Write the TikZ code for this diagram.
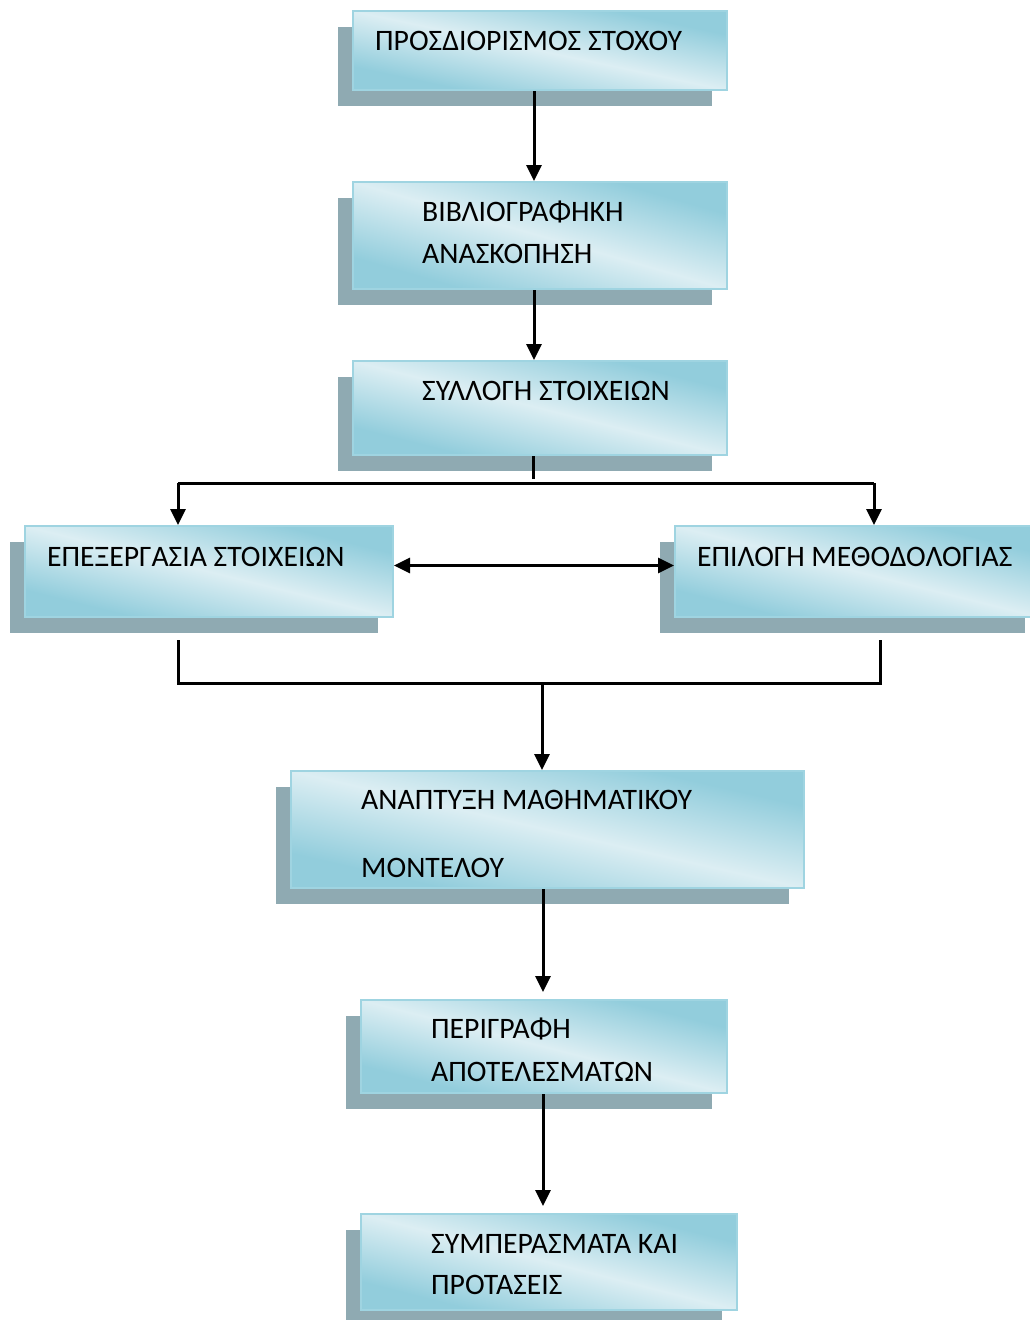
\documentclass[tikz,border=0pt]{standalone}
\usepackage{fontspec}
\setmainfont{Carlito}
\usetikzlibrary{arrows.meta}
\definecolor{dk}{HTML}{92CDDC}
\definecolor{lt}{HTML}{DCEEF3}
\definecolor{bd}{HTML}{9FD4E1}
\definecolor{sh}{HTML}{8FAAB2}
\pgfdeclareverticalshading{aquashade}{100bp}{color(0bp)=(dk); color(25bp)=(dk); color(50bp)=(lt); color(75bp)=(dk); color(100bp)=(dk)}
\tikzset{
  boxframe/.style={draw=bd, line width=2pt, inner sep=0pt, fill=none},
  shadowbox/.style={fill=sh},
  lbl/.style={anchor=west, inner sep=0pt, font=\fontsize{29.7}{32}\selectfont},
  conn/.style={line width=3pt, black},
  arr/.style={conn, -{Triangle[length=16pt,width=15pt]}},
  darr/.style={conn, {Triangle[length=16pt,width=15pt]}-{Triangle[length=16pt,width=15pt]}}
}
% #1 name, #2 x1, #3 y1, #4 x2, #5 y2
\newcommand\flowbox[5]{%
  \fill[shadowbox] (#2-15,#3+16) rectangle (#4-15,#5+16);
  \begin{scope}[transform canvas={shift={({(#2+#4)/2},{(#3+#5)/2})}, xscale={(#4-#2)/(#5-#3)}}]
    \shade[shading=aquashade, shading angle=-45] ({-(#5-#3)/2},{-(#5-#3)/2}) rectangle ({(#5-#3)/2},{(#5-#3)/2});
  \end{scope}
  \node[boxframe, minimum width={#4-#2}, minimum height={#5-#3}] (#1) at ({(#2+#4)/2},{(#3+#5)/2}) {};
}
\begin{document}
\begin{tikzpicture}[x=1pt, y=-1pt]
\useasboundingbox (0,0) rectangle (1030,1320);
\clip (0,0) rectangle (1030,1320);

\flowbox{b1}{353}{11}{727}{90}
\flowbox{b2}{353}{182}{727}{289}
\flowbox{b3}{353}{361}{727}{455}
\flowbox{b4}{25}{526}{393}{617}
\flowbox{b5}{675}{526}{1040}{617}
\flowbox{b6}{291}{771}{804}{888}
\flowbox{b7}{361}{1000}{727}{1093}
\flowbox{b8}{361}{1214}{737}{1310}

\node[lbl] (t1) at (375,41) {ΠΡΟΣΔΙΟΡΙΣΜΟΣ ΣΤΟΧΟΥ};
\node[lbl] (t2a) at (422,212) {ΒΙΒΛΙΟΓΡΑΦΗΚΗ};
\node[lbl] (t2b) at (422,254) {ΑΝΑΣΚΟΠΗΣΗ};
\node[lbl] (t3) at (422,391) {ΣΥΛΛΟΓΗ ΣΤΟΙΧΕΙΩΝ};
\node[lbl] (t4) at (47,557) {ΕΠΕΞΕΡΓΑΣΙΑ ΣΤΟΙΧΕΙΩΝ};
\node[lbl] (t5) at (697,557) {ΕΠΙΛΟΓΗ ΜΕΘΟΔΟΛΟΓΙΑΣ};
\node[lbl] (t6a) at (361,800) {ΑΝΑΠΤΥΞΗ ΜΑΘΗΜΑΤΙΚΟΥ};
\node[lbl] (t6b) at (361,868) {ΜΟΝΤΕΛΟΥ};
\node[lbl] (t7a) at (431,1029) {ΠΕΡΙΓΡΑΦΗ};
\node[lbl] (t7b) at (431,1072) {ΑΠΟΤΕΛΕΣΜΑΤΩΝ};
\node[lbl] (t8a) at (431,1244) {ΣΥΜΠΕΡΑΣΜΑΤΑ ΚΑΙ};
\node[lbl] (t8b) at (431,1285) {ΠΡΟΤΑΣΕΙΣ};

% connectors
\draw[arr] ([xshift=-6pt]b1.south) -- ([xshift=-6pt]b2.north);
\draw[arr] ([xshift=-6pt]b2.south) -- ([xshift=-6pt]b3.north);

\coordinate (s1) at (533,479);
\coordinate (hl) at (178,483);
\coordinate (hr) at (874,483);
\draw[conn] ([xshift=-7pt]b3.south) -- (s1);
\draw[conn] (hl) -- (hr);
\draw[arr] (hl) -- (b4.north -| hl);
\draw[arr] (hr) -- (b5.north -| hr);

\draw[darr] ([yshift=6pt]b4.east) -- ([yshift=6pt]b5.west);

\coordinate (ul) at (178,640);
\coordinate (ur) at (880,640);
\coordinate (ml) at (178,683);
\coordinate (mr) at (880,683);
\coordinate (mc) at (542,683);
\draw[conn] (ul) -- (ml) -- (mr) -- (ur);
\draw[arr] (mc) -- (b6.north -| mc);

\coordinate (c6) at (543,888);
\draw[arr] (b6.south -| c6) -- (543,992);
\draw[arr] (b7.south -| c6) -- (543,1206);
\end{tikzpicture}
\end{document}
